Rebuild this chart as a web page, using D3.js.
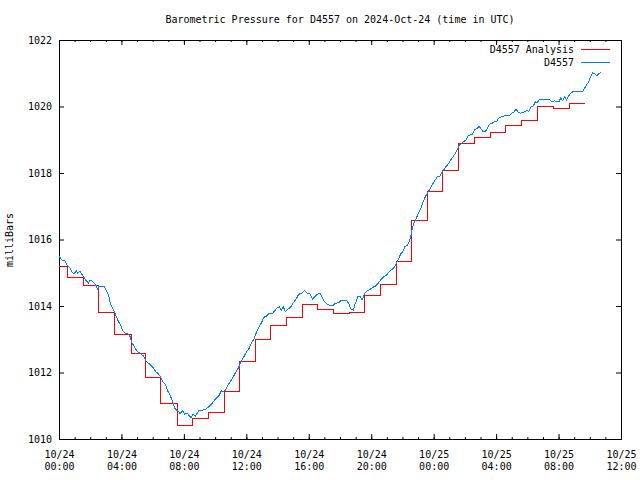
<!DOCTYPE html>
<html>
<head>
<meta charset="utf-8">
<script src="https://cdn.jsdelivr.net/npm/d3@7"></script>
<style>
  html, body { margin: 0; padding: 0; background: #fff; }
  svg { display: block; }
  text { font-family: "DejaVu Sans Mono", "Liberation Mono", monospace; font-size: 10px; fill: #000; }
</style>
</head>
<body>
<svg id="chart" width="640" height="480"></svg>
<script>
// ---------------- DATA ----------------
const chartTitle = "Barometric Pressure for D4557 on 2024-Oct-24 (time in UTC)";
const yAxisTitle = "milliBars";
const seriesNames = ["D4557 Analysis", "D4557"];
const yTickValues = [1010, 1012, 1014, 1016, 1018, 1020, 1022];

// Analysis series (step line): minutes after 2024-10-24 00:00 UTC, value in mb
const analysisMinutes = [0, 32, 93, 151, 213, 277, 332, 391, 454, 512, 575, 635, 693, 755, 814, 875, 937, 994,
  1056, 1117, 1173, 1236, 1297, 1355, 1417, 1475, 1536, 1597, 1657, 1717, 1778, 1838, 1900, 1961, 2023];
const analysisValues = [1015.20, 1014.86, 1014.63, 1013.79, 1013.15, 1012.58, 1011.86, 1011.08, 1010.41, 1010.62,
  1010.81, 1011.43, 1012.32, 1013.00, 1013.42, 1013.66, 1014.05, 1013.90, 1013.77, 1013.79, 1014.33, 1014.65,
  1015.35, 1016.56, 1017.45, 1018.08, 1018.89, 1019.08, 1019.23, 1019.42, 1019.57, 1020.00, 1019.95, 1020.08, 1020.08];

// Observed series: minutes after 2024-10-24 00:00 UTC, value in mb
const obsMinutes = [0, 4, 13, 23, 28, 36, 43, 51, 59, 66, 72, 80, 87, 95, 100, 108, 113, 118, 126, 133, 141, 149,
  154, 164, 174, 179, 187, 192, 197, 205, 213, 220, 229, 236, 247, 255, 265, 273, 281, 291, 301, 311, 324, 334,
  342, 352, 362, 373, 383, 391, 399, 409, 416, 427, 437, 447, 457, 465, 475, 483, 493, 501, 508, 516, 524, 529,
  539, 552, 562, 573, 583, 593, 603, 614, 624, 631, 639, 650, 660, 670, 680, 691, 701, 711, 721, 731, 742, 749,
  760, 770, 778, 788, 798, 808, 819, 826, 837, 847, 854, 862, 870, 880, 891, 901, 911, 921, 931, 944, 954, 965,
  975, 985, 995, 1003, 1013, 1021, 1031, 1042, 1052, 1062, 1075, 1085, 1095, 1106, 1113, 1123, 1131, 1139, 1149,
  1157, 1165, 1175, 1185, 1195, 1206, 1216, 1226, 1236, 1249, 1259, 1269, 1280, 1290, 1300, 1306, 1313, 1321,
  1329, 1339, 1346, 1352, 1357, 1362, 1369, 1377, 1385, 1392, 1400, 1408, 1416, 1423, 1431, 1439, 1446, 1454,
  1464, 1472, 1480, 1487, 1498, 1505, 1515, 1523, 1531, 1539, 1546, 1554, 1564, 1572, 1580, 1590, 1597, 1608,
  1615, 1623, 1631, 1638, 1646, 1654, 1664, 1672, 1682, 1690, 1700, 1708, 1715, 1726, 1733, 1741, 1749, 1756,
  1764, 1772, 1780, 1790, 1798, 1805, 1813, 1823, 1831, 1838, 1846, 1856, 1869, 1882, 1890, 1898, 1905, 1913,
  1921, 1928, 1936, 1944, 1951, 1959, 1967, 1977, 1990, 2002, 2013, 2020, 2028, 2036, 2043, 2051, 2059, 2067,
  2074, 2084];
const obsValues = [1015.50, 1015.46, 1015.36, 1015.36, 1015.26, 1015.20, 1015.13, 1015.00, 1014.98, 1015.06,
  1014.98, 1015.05, 1014.96, 1014.88, 1014.80, 1014.73, 1014.68, 1014.76, 1014.76, 1014.70, 1014.64, 1014.50,
  1014.60, 1014.60, 1014.60, 1014.50, 1014.40, 1014.28, 1014.08, 1013.96, 1013.83, 1013.68, 1013.53, 1013.43,
  1013.23, 1013.18, 1013.16, 1013.08, 1012.88, 1012.76, 1012.63, 1012.58, 1012.50, 1012.35, 1012.29, 1012.23,
  1012.14, 1012.02, 1011.95, 1011.86, 1011.72, 1011.65, 1011.47, 1011.32, 1011.12, 1010.89, 1010.85, 1010.77,
  1010.85, 1010.75, 1010.77, 1010.69, 1010.65, 1010.75, 1010.67, 1010.75, 1010.87, 1010.87, 1010.89, 1010.95,
  1011.02, 1011.12, 1011.22, 1011.29, 1011.45, 1011.42, 1011.47, 1011.62, 1011.75, 1011.87, 1012.02, 1012.16,
  1012.35, 1012.48, 1012.63, 1012.73, 1012.93, 1013.00, 1013.23, 1013.38, 1013.50, 1013.66, 1013.70, 1013.78,
  1013.76, 1013.83, 1013.93, 1013.98, 1013.86, 1013.98, 1013.83, 1013.90, 1013.98, 1014.10, 1014.20, 1014.35,
  1014.38, 1014.46, 1014.38, 1014.36, 1014.20, 1014.30, 1014.36, 1014.38, 1014.23, 1014.13, 1014.06, 1014.01,
  1014.01, 1014.08, 1014.10, 1014.18, 1014.16, 1014.16, 1014.08, 1013.90, 1013.88, 1014.08, 1014.28, 1014.30,
  1014.18, 1014.38, 1014.46, 1014.50, 1014.56, 1014.60, 1014.68, 1014.78, 1014.88, 1014.93, 1015.03, 1015.10,
  1015.18, 1015.33, 1015.43, 1015.56, 1015.63, 1015.78, 1015.83, 1015.93, 1016.08, 1016.29, 1016.44, 1016.57,
  1016.71, 1016.84, 1016.97, 1017.14, 1017.29, 1017.39, 1017.49, 1017.59, 1017.71, 1017.79, 1017.89, 1017.91,
  1018.01, 1018.11, 1018.19, 1018.29, 1018.39, 1018.49, 1018.59, 1018.71, 1018.84, 1018.87, 1018.94, 1018.99,
  1019.11, 1019.14, 1019.17, 1019.30, 1019.34, 1019.41, 1019.31, 1019.24, 1019.24, 1019.34, 1019.47, 1019.49,
  1019.54, 1019.54, 1019.65, 1019.69, 1019.71, 1019.74, 1019.74, 1019.74, 1019.80, 1019.84, 1019.92, 1019.84,
  1019.80, 1019.81, 1019.84, 1019.89, 1019.84, 1019.98, 1020.02, 1020.14, 1020.11, 1020.22, 1020.22, 1020.22,
  1020.22, 1020.17, 1020.14, 1020.17, 1020.14, 1020.14, 1020.25, 1020.17, 1020.29, 1020.20, 1020.32, 1020.40,
  1020.45, 1020.45, 1020.45, 1020.45, 1020.55, 1020.65, 1020.75, 1020.90, 1021.02, 1020.98, 1020.92, 1020.98,
  1021.03];

const colors = { analysis: "#ff0000", obs: "#0080ff" };

// ---------------- CHART ----------------
const t0 = Date.UTC(2024, 9, 24, 0, 0);
const toDate = m => new Date(t0 + m * 60000);
const analysis = analysisMinutes.map((m, i) => ({ t: toDate(m), v: analysisValues[i] }));
const obs = obsMinutes.map((m, i) => ({ t: toDate(m), v: obsValues[i] }));

const svg = d3.select("#chart");
const L = 59, R = 621, T = 40, B = 439;

const x = d3.scaleUtc()
  .domain([new Date(Date.UTC(2024, 9, 24, 0)), new Date(Date.UTC(2024, 9, 25, 12))])
  .range([L, R]);
const y = d3.scaleLinear().domain([1010, 1022]).range([B, T]);

const majorX = x.ticks(d3.utcHour.every(4));
const minorX = x.ticks(d3.utcHour.every(1));

// minor ticks bottom & top
svg.append("g").attr("transform", `translate(0,${B})`)
  .call(d3.axisBottom(x).tickValues(minorX).tickSize(-2).tickFormat(""))
  .call(g => g.select(".domain").remove());
svg.append("g").attr("transform", `translate(0,${T})`)
  .call(d3.axisTop(x).tickValues(minorX).tickSize(-2).tickFormat(""))
  .call(g => g.select(".domain").remove());

// major ticks bottom with two-line labels
const fmtDate = d3.utcFormat("%m/%d"), fmtTime = d3.utcFormat("%H:%M");
const gx = svg.append("g").attr("transform", `translate(0,${B})`)
  .call(d3.axisBottom(x).tickValues(majorX).tickSize(-5).tickPadding(12).tickFormat(""));
gx.selectAll(".tick text").each(function(d) {
  const t = d3.select(this).attr("y", 0).attr("dy", null);
  t.append("tspan").attr("x", 0).attr("y", 19).text(fmtDate(d));
  t.append("tspan").attr("x", 0).attr("y", 31).text(fmtTime(d));
});
gx.selectAll("text").style("font-family", "'DejaVu Sans Mono', monospace").style("font-size", "10px");

svg.append("g").attr("transform", `translate(0,${T})`)
  .call(d3.axisTop(x).tickValues(majorX).tickSize(-5).tickFormat(""));

// y axes
const gy = svg.append("g").attr("transform", `translate(${L},0)`)
  .call(d3.axisLeft(y).tickValues(yTickValues).tickSize(-5).tickPadding(7).tickFormat(d3.format("d")));
gy.selectAll("text").style("font-family", "'DejaVu Sans Mono', monospace").style("font-size", "10px");
svg.append("g").attr("transform", `translate(${R},0)`)
  .call(d3.axisRight(y).tickValues(yTickValues).tickSize(-5).tickFormat(""));

svg.selectAll(".domain").attr("stroke", "#000");
svg.selectAll(".tick line").attr("stroke", "#000");

// data lines
svg.append("path").datum(analysis)
  .attr("fill", "none").attr("stroke", colors.analysis).attr("stroke-width", 1)
  .attr("shape-rendering", "crispEdges")
  .attr("d", d3.line().x(d => x(d.t)).y(d => y(d.v)).curve(d3.curveStepAfter));

svg.append("path").datum(obs)
  .attr("fill", "none").attr("stroke", colors.obs).attr("stroke-width", 1)
  .attr("shape-rendering", "crispEdges")
  .attr("d", d3.line().x(d => x(d.t)).y(d => y(d.v)));

// title
svg.append("text").attr("x", 340).attr("y", 23).attr("text-anchor", "middle").text(chartTitle);

// y title
svg.append("text").attr("transform", "translate(13,240) rotate(-90)").attr("text-anchor", "middle").text(yAxisTitle);

// legend
const legend = [
  { name: seriesNames[0], color: colors.analysis, y: 49 },
  { name: seriesNames[1], color: colors.obs, y: 62 }
];
const lg = svg.append("g");
lg.selectAll("text").data(legend).join("text")
  .attr("x", 574).attr("y", d => d.y + 4).attr("text-anchor", "end").text(d => d.name);
lg.selectAll("line").data(legend).join("line")
  .attr("x1", 581).attr("x2", 610).attr("y1", d => d.y + 0.5).attr("y2", d => d.y + 0.5)
  .attr("stroke", d => d.color).attr("stroke-width", 1);
</script>
</body>
</html>
